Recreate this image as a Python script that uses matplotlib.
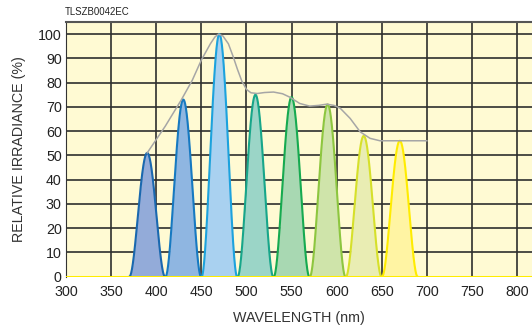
import numpy as np
import matplotlib
matplotlib.use("Agg")
import matplotlib.pyplot as plt

plt.rcParams['font.family'] = ['Liberation Sans', 'DejaVu Sans']

# LED peaks (nm, % relative irradiance)
centers = [390, 430, 470, 510, 550, 590, 630, 670]
heights = [51, 73, 100, 75, 74, 71, 58, 56]
half_base = 19.5
fills = ['#93abd9', '#8fb6e1', '#a9d1f0', '#9bd5c7', '#a8d8b2', '#cfe4aa', '#e9edb3', '#fff4a3']
edges = ['#1a68af', '#1679c1', '#1ca2dd', '#17a68a', '#16aa50', '#8dc63f', '#d6e02a', '#ffec00']

# envelope (grey) curve
env_x = [390, 410, 428, 440, 450, 460, 465, 469, 474, 480, 485, 490, 495, 500, 505,
         512, 520, 530, 540, 548, 559, 570, 580, 589, 597, 604, 615, 626, 637, 648, 660, 700]
env_y = [51, 62, 73, 81, 89.3, 96, 98.8, 100, 99.2, 96, 91, 85.5, 80.5, 77.2, 75.8,
         75.5, 75.9, 76.1, 75.4, 74, 71.4, 70.3, 70.6, 71.1, 70.6, 69.4, 65.2, 59.7, 57, 56, 56, 56]

xticks = np.arange(300, 801, 50)
yticks = np.arange(0, 101, 10)

fig = plt.figure(figsize=(5.32, 3.27), dpi=100)
ax = fig.add_axes([66 / 532, 1 - 276.5 / 327, 1 - 66 / 532, (276.5 - 22) / 327])
ax.set_facecolor('#fffad3')
ax.set_xlim(300, 816.5)
ax.set_ylim(0, 105)

for x in xticks:
    ax.axvline(x, color='#2e2e2e', lw=1.2, zorder=1)
for y in yticks[1:]:
    ax.axhline(y, color='#2e2e2e', lw=1.2, zorder=1)

# bell-shaped band for each LED
for c, h, fc, ec in zip(centers, heights, fills, edges):
    wl = np.linspace(c - half_base, c + half_base, 300)
    prof = h * np.cos(np.pi / 2 * (wl - c) / half_base).clip(0) ** 1.8
    ax.fill_between(wl, 0, prof, color=fc, lw=0, zorder=2)
    ax.plot(wl, prof, color=ec, lw=1.5, zorder=3)

ax.plot(env_x, env_y, color='#a6a6a6', lw=1.1, zorder=4)
ax.axhline(0, color='#ffec00', lw=2.2, zorder=5)

ax.set_xticks(xticks)
ax.set_yticks(yticks)
ax.tick_params(length=0, labelsize=10.3, colors='#222222', pad=3)
ax.tick_params(axis='x', pad=6)
for s in ['right', 'bottom']:
    ax.spines[s].set_visible(False)
ax.spines['top'].set_color('#555555')
ax.spines['left'].set_color('#333333')
ax.spines['top'].set_linewidth(1.5)

ax.set_xlabel('WAVELENGTH (nm)', fontsize=10.3, color='#333333', labelpad=9)
ax.set_ylabel('RELATIVE IRRADIANCE (%)', fontsize=10.3, color='#333333', labelpad=9)
fig.text(65 / 532, 1 - 12 / 327, 'TLSZB0042EC', fontsize=6.9, color='#222222', va='center')

fig.savefig('out.png', dpi=100)
